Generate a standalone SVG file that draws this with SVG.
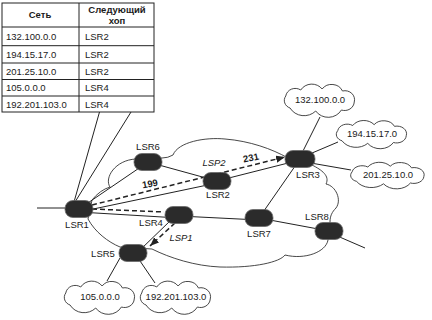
<svg xmlns="http://www.w3.org/2000/svg" width="432" height="320" viewBox="0 0 432 320">
<style>
text{font-family:"Liberation Sans",Arial,sans-serif;font-size:9.5px;fill:#1a1a1a}
.b{font-weight:bold}
.c{text-anchor:middle}
.i{font-style:italic}
.ln{stroke:#222;stroke-width:1;fill:none}
.ds{stroke:#222;stroke-width:1.5;fill:none;stroke-dasharray:5 3}
.rt{fill:#2b2b2b;stroke:#6a6a6a;stroke-width:0.8}
.cl{fill:#fff;stroke:#333;stroke-width:0.9}
.tb{stroke:#222;stroke-width:1;fill:none}
.big{fill:none;stroke:#333;stroke-width:0.9}
</style>
<defs>
<marker id="ah" viewBox="0 0 10 8" refX="10" refY="4" markerWidth="9" markerHeight="7.2" markerUnits="userSpaceOnUse" orient="auto"><path d="M0,0 L10,4 L0,8 z" fill="#222"/></marker>
<path id="cloud" vector-effect="non-scaling-stroke" d="M-28,8 A8,8 0 0 1 -32,-4 A9,9 0 0 1 -18,-10 A12,12 0 0 1 2,-11 A11,11 0 0 1 21,-9 A9,9 0 0 1 32,2 A9,9 0 0 1 20,10 A14,14 0 0 1 -4,11 A15,15 0 0 1 -28,8 Z"/>
</defs>

<g id="table">
<rect class="tb" x="2" y="3" width="152" height="109"/>
<line class="tb" x1="79" y1="3" x2="79" y2="112"/>
<line class="tb" x1="2" y1="27" x2="154" y2="27"/>
<line class="tb" x1="2" y1="45.7" x2="154" y2="45.7"/>
<line class="tb" x1="2" y1="63" x2="154" y2="63"/>
<line class="tb" x1="2" y1="79.5" x2="154" y2="79.5"/>
<line class="tb" x1="2" y1="96" x2="154" y2="96"/>
<text class="b c" x="40" y="18">Сеть</text>
<text class="b c" x="117" y="13">Следующий</text>
<text class="b c" x="117" y="24">хоп</text>
<text x="6" y="39.5">132.100.0.0</text><text x="85" y="39.5">LSR2</text>
<text x="6" y="57.5">194.15.17.0</text><text x="85" y="57.5">LSR2</text>
<text x="6" y="74.5">201.25.10.0</text><text x="85" y="74.5">LSR2</text>
<text x="6" y="91">105.0.0.0</text><text x="85" y="91">LSR4</text>
<text x="6" y="107.5">192.201.103.0</text><text x="85" y="107.5">LSR4</text>
</g>

<g id="network">
<path class="big" d="M92,200 Q100,190 110,187 C104,178 115,160 136,159 L162,158 Q168,158 173,155 C178,142 205,137 225,139 C250,141 272,149 288,158 L312,165 C322,170 330,176 326,184 C336,186 342,200 336,208 C332,212 330,216 330,222 L328,240 C326,252 305,260 285,255 C280,262 255,268 220,267 C195,266 170,258 152,249 L120,247 C108,242 95,232 88,219 Z"/>
</g>

<g id="connectors">
<line class="ln" x1="99.5" y1="112" x2="74" y2="202"/>
<line class="ln" x1="131" y1="112" x2="75" y2="202"/>
<line class="ln" x1="37" y1="208" x2="70" y2="208"/>
<line class="ln" x1="79" y1="209" x2="148" y2="162"/>
<line class="ln" x1="148" y1="162" x2="217" y2="181"/>
<line class="ln" x1="79" y1="212" x2="217" y2="183"/>
<line class="ln" x1="217" y1="181" x2="300" y2="160"/>
<line class="ln" x1="79" y1="212" x2="179" y2="218"/>
<line class="ln" x1="179" y1="216" x2="259" y2="220"/>
<line class="ln" x1="170" y1="221" x2="140" y2="250"/>
<line class="ln" x1="259" y1="218" x2="300" y2="159"/>
<line class="ln" x1="300" y1="157" x2="320" y2="117"/>
<line class="ln" x1="305" y1="156" x2="338" y2="142"/>
<line class="ln" x1="305" y1="162" x2="351" y2="170"/>
<line class="ln" x1="259" y1="218" x2="329" y2="231"/>
<line class="ln" x1="335" y1="235" x2="365" y2="248"/>
<line class="ln" x1="120" y1="258" x2="107" y2="281"/>
<line class="ln" x1="138" y1="258" x2="155" y2="283"/>
<line class="ds" x1="92" y1="205" x2="285" y2="157" marker-end="url(#ah)"/>
<line class="ds" x1="92" y1="209" x2="164" y2="212"/>
<line class="ds" x1="175" y1="223" x2="150" y2="246" marker-end="url(#ah)"/>
</g>

<g id="c132"><use href="#cloud" class="cl" transform="translate(320,100) scale(1.07,1)"/><text class="c" x="320" y="103">132.100.0.0</text></g>
<g id="c194"><use href="#cloud" class="cl" transform="translate(372,134) scale(1.07,0.85)"/><text class="c" x="372" y="137">194.15.17.0</text></g>
<g id="c201"><use href="#cloud" class="cl" transform="translate(388,175) scale(1.12,0.8)"/><text class="c" x="388" y="178">201.25.10.0</text></g>
<g id="c105"><use href="#cloud" class="cl" transform="translate(100,297) scale(1.07,1)"/><text class="c" x="100" y="300">105.0.0.0</text></g>
<g id="c192"><use href="#cloud" class="cl" transform="translate(176,297) scale(1.07,1)"/><text class="c" x="176" y="300">192.201.103.0</text></g>

<g id="LSR1"><rect class="rt" x="65" y="200.5" width="28" height="17" rx="8"/><text class="c" x="77" y="228">LSR1</text></g>
<g id="LSR6"><rect class="rt" x="134" y="153.5" width="28" height="17" rx="8"/><text class="c" x="148" y="150">LSR6</text></g>
<g id="LSR2"><rect class="rt" x="203" y="172.5" width="28" height="17" rx="8"/><text class="c" x="218" y="198">LSR2</text></g>
<g id="LSR3"><rect class="rt" x="285" y="150.5" width="30" height="17" rx="8"/><text class="c" x="308" y="178">LSR3</text></g>
<g id="LSR4"><rect class="rt" x="165" y="206.5" width="28" height="17" rx="8"/><text class="c" x="151" y="226">LSR4</text></g>
<g id="LSR5"><rect class="rt" x="119" y="244.5" width="28" height="17" rx="8"/><text class="c" x="103" y="257">LSR5</text></g>
<g id="LSR7"><rect class="rt" x="245" y="209.5" width="28" height="17" rx="8"/><text class="c" x="259" y="237">LSR7</text></g>
<g id="LSR8"><rect class="rt" x="315" y="222.5" width="28" height="17" rx="8"/><text class="c" x="317" y="220">LSR8</text></g>

<g id="labels">
<text class="b c" x="150" y="187" transform="rotate(-10 150 184)">199</text>
<text class="b c" x="251" y="161" transform="rotate(-12 251 158)">231</text>
<text class="i c" x="214" y="166">LSP2</text>
<text class="i c" x="181" y="241">LSP1</text>
</g>
</svg>
